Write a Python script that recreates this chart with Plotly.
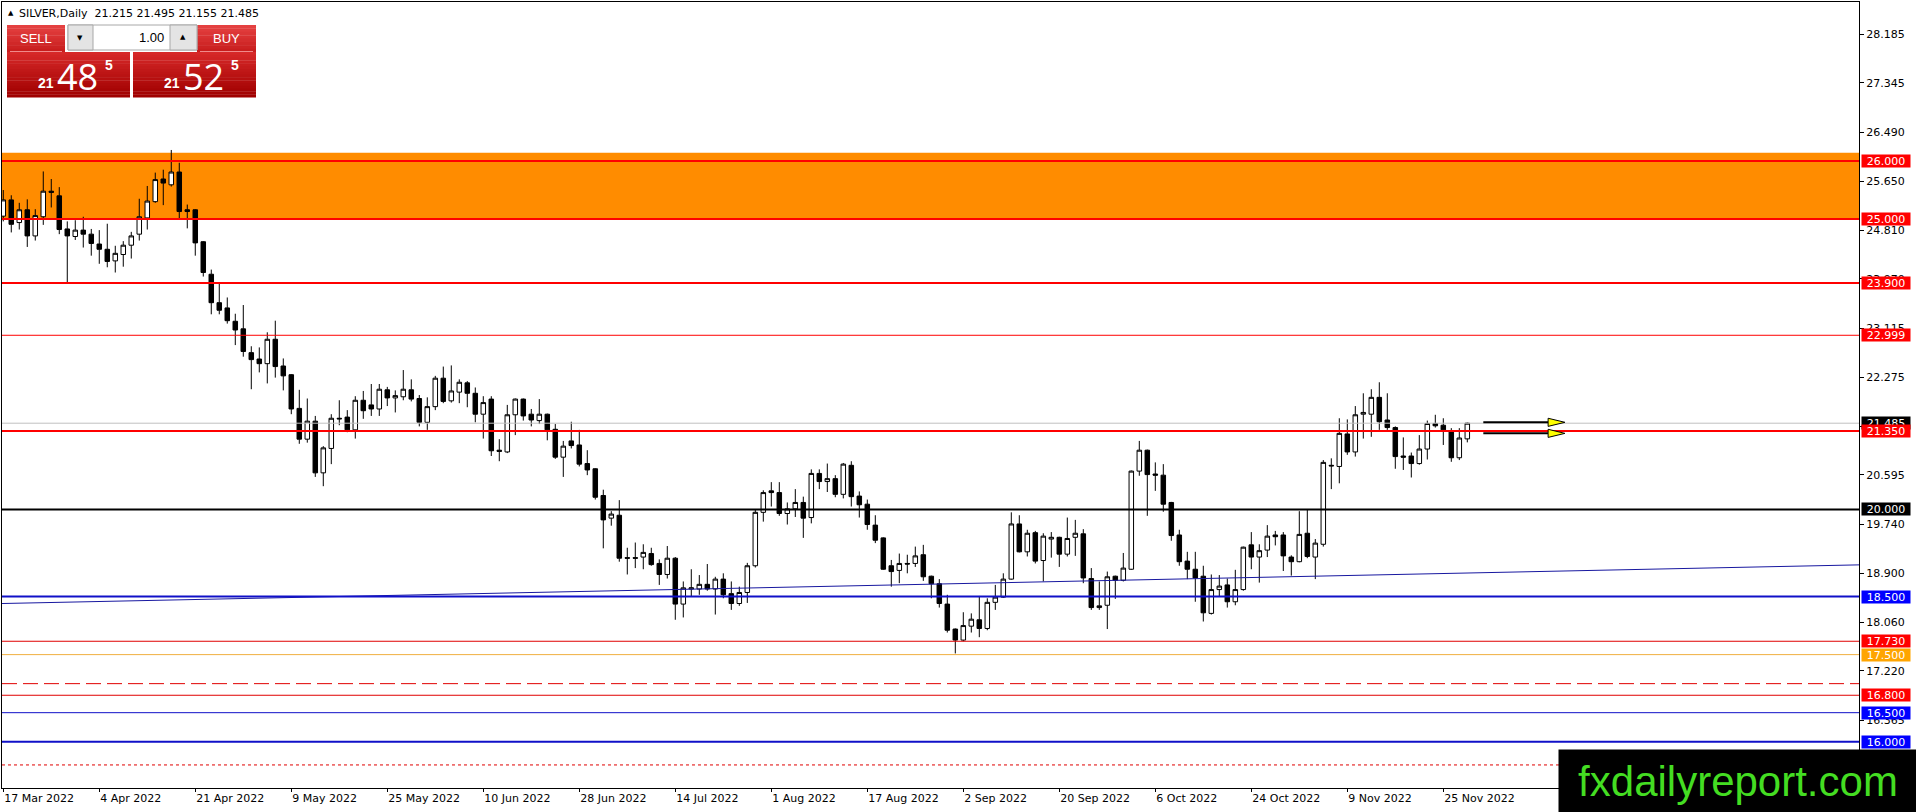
import plotly.graph_objects as go

# =================================================================
# Data: SILVER daily bars, 17 Mar 2022 .. 30 Nov 2022
# =================================================================
opens = [25.05, 25.33, 24.94, 25.16, 24.71, 25.04, 25.48, 25.40, 24.83, 24.70,
         24.81, 24.74, 24.57, 24.48, 24.28, 24.39, 24.55, 24.74, 25.02, 25.30,
         25.69, 25.59, 25.81, 25.16, 25.16, 24.61, 24.05, 23.56, 23.47, 23.24,
         23.11, 22.70, 22.59, 22.51, 22.93, 22.47, 22.32, 21.74, 21.21, 21.52,
         20.63, 21.05, 21.57, 21.59, 21.37, 21.88, 21.80, 21.73, 22.06, 21.92,
         21.94, 22.06, 21.91, 21.50, 21.77, 22.26, 21.87, 22.02, 22.18, 22.00,
         21.64, 21.90, 21.02, 20.99, 21.63, 21.90, 21.64, 21.53, 21.64, 21.38,
         20.90, 21.18, 21.11, 20.79, 20.70, 20.24, 19.85, 19.90, 19.17, 19.17,
         19.18, 19.24, 19.07, 18.88, 19.16, 18.37, 18.63, 18.63, 18.71, 18.63,
         18.80, 18.55, 18.38, 18.57, 19.03, 19.95, 20.32, 20.29, 19.93, 20.01,
         20.12, 19.86, 20.62, 20.48, 20.53, 20.26, 20.76, 20.23, 20.09, 19.73,
         19.51, 19.03, 18.95, 19.07, 19.07, 19.22, 18.85, 18.72, 18.37, 17.94,
         17.75, 17.99, 18.10, 17.95, 18.40, 18.49, 18.80, 19.75, 19.27, 19.60,
         19.12, 19.49, 19.52, 19.23, 19.52, 19.58, 18.81, 18.31, 18.35, 18.85,
         18.78, 18.97, 20.66, 21.02, 20.61, 20.59, 20.12, 19.56, 19.11, 18.97,
         18.85, 18.21, 18.62, 18.70, 18.41, 18.62, 19.39, 19.18, 19.30, 19.56,
         19.56, 19.18, 19.10, 19.59, 19.18, 19.40, 20.76, 20.74, 21.30, 20.99,
         21.64, 21.64, 21.93, 21.54, 21.41, 20.92, 20.92, 20.79, 21.04, 21.48,
         21.45, 21.35, 20.89, 21.215]
highs = [25.50, 25.41, 25.28, 25.34, 25.17, 25.82, 25.69, 25.55, 24.96, 24.98,
         25.04, 24.83, 24.81, 24.92, 24.54, 24.62, 24.78, 25.35, 25.57, 25.80,
         25.85, 26.19, 25.97, 25.25, 25.17, 24.62, 24.13, 23.89, 23.65, 23.37,
         23.52, 22.81, 22.79, 23.05, 23.25, 22.60, 22.33, 22.06, 21.91, 21.61,
         21.09, 21.64, 21.88, 21.71, 21.95, 22.04, 22.16, 22.16, 22.11, 22.05,
         22.40, 22.24, 21.97, 21.93, 22.30, 22.46, 22.48, 22.24, 22.21, 22.10,
         21.95, 21.95, 21.21, 21.80, 21.91, 21.91, 21.73, 21.90, 21.65, 21.47,
         21.18, 21.51, 21.37, 21.02, 20.71, 20.34, 19.97, 20.16, 19.34, 19.43,
         19.40, 19.34, 19.14, 19.37, 19.18, 18.76, 18.97, 18.87, 19.06, 18.84,
         18.90, 18.76, 18.67, 19.08, 19.99, 20.33, 20.47, 20.47, 20.12, 20.35,
         20.22, 20.69, 20.69, 20.79, 20.59, 20.80, 20.83, 20.31, 20.17, 19.90,
         19.52, 19.13, 19.24, 19.22, 19.36, 19.39, 18.86, 18.80, 18.53, 17.95,
         18.23, 18.21, 18.51, 18.47, 18.70, 18.90, 19.95, 19.90, 19.65, 19.63,
         19.59, 19.61, 19.53, 19.86, 19.82, 19.66, 18.99, 18.76, 18.93, 18.86,
         19.25, 20.67, 21.18, 21.03, 20.81, 20.78, 20.13, 19.65, 19.27, 19.27,
         19.03, 18.88, 18.87, 18.81, 18.96, 19.36, 19.61, 19.40, 19.73, 19.63,
         19.61, 19.21, 19.97, 20.00, 19.49, 20.85, 20.88, 21.57, 21.55, 21.78,
         22.00, 22.07, 22.19, 22.00, 21.43, 21.24, 20.98, 21.28, 21.53, 21.63,
         21.57, 21.40, 21.40, 21.495]
lows = [24.96, 24.77, 24.82, 24.52, 24.63, 24.90, 25.20, 24.74, 23.91, 24.64,
        24.51, 24.37, 24.23, 24.17, 24.08, 24.18, 24.32, 24.63, 24.82, 25.28,
        25.24, 25.56, 25.01, 24.84, 24.37, 24.01, 23.36, 23.36, 23.20, 22.83,
        22.63, 22.07, 22.36, 22.17, 22.27, 22.05, 21.64, 21.13, 21.15, 20.56,
        20.40, 20.78, 21.45, 21.33, 21.22, 21.56, 21.61, 21.61, 21.78, 21.67,
        21.88, 21.86, 21.43, 21.37, 21.71, 21.83, 21.84, 21.83, 21.76, 21.50,
        21.22, 20.92, 20.83, 20.97, 21.28, 21.53, 21.43, 21.47, 21.19, 20.87,
        20.56, 21.05, 20.74, 20.59, 20.17, 19.33, 19.72, 19.10, 18.88, 18.99,
        18.97, 19.03, 18.70, 18.81, 18.10, 18.14, 18.50, 18.53, 18.60, 18.19,
        18.47, 18.27, 18.34, 18.39, 19.00, 19.79, 20.05, 19.89, 19.74, 19.87,
        19.51, 19.76, 20.35, 20.30, 20.21, 20.19, 20.05, 19.86, 19.65, 19.42,
        18.96, 18.67, 18.73, 18.90, 19.01, 18.77, 18.47, 18.31, 17.88, 17.52,
        17.73, 17.88, 17.80, 17.92, 18.27, 18.48, 18.79, 19.26, 19.19, 19.07,
        18.76, 19.17, 19.01, 19.19, 19.20, 18.73, 18.27, 18.27, 17.94, 18.46,
        18.76, 18.96, 20.58, 19.89, 20.32, 19.96, 19.46, 19.03, 18.80, 18.41,
        18.07, 18.19, 18.50, 18.31, 18.35, 18.60, 18.97, 18.74, 19.18, 19.38,
        18.94, 18.86, 19.09, 19.16, 18.80, 19.36, 20.35, 20.45, 20.94, 20.91,
        21.22, 21.25, 21.37, 21.37, 20.70, 20.68, 20.55, 20.77, 20.86, 21.41,
        21.11, 20.82, 20.85, 21.155]
closes = [25.33, 24.91, 25.16, 24.71, 25.06, 25.48, 25.46, 24.82, 24.71, 24.81,
          24.74, 24.58, 24.48, 24.27, 24.41, 24.55, 24.71, 25.04, 25.31, 25.68,
          25.62, 25.81, 25.13, 25.13, 24.59, 24.08, 23.56, 23.43, 23.25, 23.09,
          22.72, 22.58, 22.51, 22.93, 22.46, 22.30, 21.73, 21.21, 21.52, 20.63,
          21.06, 21.57, 21.56, 21.37, 21.88, 21.70, 21.73, 22.07, 21.92, 21.96,
          22.07, 21.90, 21.50, 21.77, 22.26, 21.86, 22.04, 22.19, 22.00, 21.64,
          21.84, 21.01, 21.00, 21.63, 21.90, 21.61, 21.54, 21.64, 21.37, 20.90,
          21.09, 21.10, 20.78, 20.68, 20.21, 19.82, 19.92, 19.16, 19.16, 19.16,
          19.26, 19.05, 18.88, 19.16, 18.37, 18.65, 18.65, 18.71, 18.63, 18.80,
          18.53, 18.38, 18.57, 19.03, 19.95, 20.29, 20.29, 19.93, 20.01, 20.12,
          19.85, 20.62, 20.48, 20.53, 20.26, 20.78, 20.22, 20.08, 19.74, 19.47,
          18.97, 18.93, 19.07, 19.06, 19.20, 18.84, 18.72, 18.38, 17.92, 17.75,
          18.00, 18.11, 17.95, 18.40, 18.49, 18.80, 19.75, 19.27, 19.59, 19.11,
          19.54, 19.52, 19.23, 19.50, 19.59, 18.82, 18.31, 18.34, 18.84, 18.78,
          18.99, 20.66, 21.02, 20.60, 20.59, 20.09, 19.55, 19.10, 18.97, 18.82,
          18.22, 18.62, 18.68, 18.41, 18.62, 19.35, 19.18, 19.29, 19.54, 19.53,
          19.20, 19.10, 19.57, 19.19, 19.42, 20.81, 20.75, 21.31, 20.99, 21.63,
          21.67, 21.93, 21.51, 21.41, 20.91, 20.90, 20.79, 21.04, 21.48, 21.44,
          21.37, 20.89, 21.23, 21.485]

tick_bars = [0, 12, 24, 36, 48, 60, 72, 84, 96, 108, 120, 132, 144, 156, 168, 180]
tick_labels = ["17 Mar 2022", "4 Apr 2022", "21 Apr 2022", "9 May 2022",
               "25 May 2022", "10 Jun 2022", "28 Jun 2022", "14 Jul 2022",
               "1 Aug 2022", "17 Aug 2022", "2 Sep 2022", "20 Sep 2022",
               "6 Oct 2022", "24 Oct 2022", "9 Nov 2022", "25 Nov 2022"]

price_ticks = [28.185, 27.345, 26.490, 25.650, 24.810, 23.970, 23.115, 22.275,
               21.435, 20.595, 19.740, 18.900, 18.060, 17.220, 16.365]

# horizontal levels drawn on the chart
level_prices = [26.0, 25.0, 23.9, 22.999, 21.35, 20.0, 18.5, 17.73, 17.5, 16.8, 16.5, 16.0]
level_colors = ["#ff0000", "#ff0000", "#ff0000", "#ff0000", "#ff0000", "#000000",
                "#1010c8", "#e00000", "#f0b040", "#e00000", "#1010c8", "#1010c8"]
level_label_bg = ["#ff0000", "#ff0000", "#ff0000", "#ff0000", "#ff0000", "#000000",
                  "#0000ff", "#ff0000", "#ffa500", "#ff0000", "#0000ff", "#0000ff"]
level_widths = [2, 2, 2, 1, 2, 2, 2, 1, 1, 1, 1, 2]

zone_low, zone_high = 25.0, 26.14
dashed_level = 17.0
dotted_level = 15.6
trend_bars = [0, 183]
trend_prices = [18.38, 18.905]
arrow_prices = [21.50, 21.31]
arrow_bars = [185.0, 195.2]
bid, ask, lot = 21.485, 21.525, 1.00

# =================================================================
# Layout helpers (pixel -> paper)
# =================================================================
W, H = 1916, 812
PL, PR, PT, PB = 2, 1859, 2, 788
X_MIN, X_MAX = -0.16, 231.96
Y_MIN, Y_MAX = 15.203, 28.738


def fx(px):
    return (px - PL) / (PR - PL)


def fy(py):
    return (PB - py) / (PB - PT)


shapes = []
annos = []


def rect(x0, y0, x1, y1, fill, line=None, lw=0):
    shapes.append(dict(type="rect", xref="paper", yref="paper",
                       x0=fx(x0), x1=fx(x1), y0=fy(y0), y1=fy(y1),
                       fillcolor=fill, line=dict(color=line or fill, width=lw),
                       layer="above"))


def grad_rect(x0, y0, x1, y1, c_top, c_bot, n=14):
    h = (y1 - y0) / n
    for i in range(n):
        t = i / (n - 1)
        c = tuple(int(round(a + (b - a) * t)) for a, b in zip(c_top, c_bot))
        rect(x0, y0 + i * h, x1, y0 + (i + 1) * h + 0.4, "rgb(%d,%d,%d)" % c)


def text(x, y, s, size, color="black", family="DejaVu Sans", xanchor="left", **kw):
    annos.append(dict(xref="paper", yref="paper", x=fx(x), y=fy(y), text=s,
                      showarrow=False, xanchor=xanchor, yanchor="middle",
                      font=dict(size=size, color=color, family=family), **kw))


# =================================================================
# Figure
# =================================================================
fig = go.Figure()

fig.add_trace(go.Candlestick(
    x=list(range(len(opens))), open=opens, high=highs, low=lows, close=closes,
    increasing=dict(line=dict(color="black", width=1), fillcolor="white"),
    decreasing=dict(line=dict(color="black", width=1), fillcolor="black"),
    whiskerwidth=0, hoverinfo="skip", showlegend=False,
))

# orange zone (behind candles)
shapes.append(dict(type="rect", xref="paper", yref="y", x0=0, x1=1,
                   y0=zone_low, y1=zone_high, fillcolor="#ff8c00",
                   line=dict(width=0), layer="below"))

# trend line, extended to both edges
slope = (trend_prices[1] - trend_prices[0]) / (trend_bars[1] - trend_bars[0])
shapes.append(dict(type="line", xref="x", yref="y",
                   x0=X_MIN, y0=trend_prices[0] + slope * (X_MIN - trend_bars[0]),
                   x1=X_MAX, y1=trend_prices[0] + slope * (X_MAX - trend_bars[0]),
                   line=dict(color="#1818a0", width=1), layer="above"))

# bid line
shapes.append(dict(type="line", xref="paper", yref="y", x0=0, x1=1, y0=closes[-1], y1=closes[-1],
                   line=dict(color="#c0c0c0", width=1), layer="above"))

for p, c, w in zip(level_prices, level_colors, level_widths):
    shapes.append(dict(type="line", xref="paper", yref="y", x0=0, x1=1, y0=p, y1=p,
                       line=dict(color=c, width=w), layer="above"))
shapes.append(dict(type="line", xref="paper", yref="y", x0=0, x1=1,
                   y0=dashed_level, y1=dashed_level,
                   line=dict(color="#e00000", width=1, dash="15px,6px"), layer="above"))
shapes.append(dict(type="line", xref="paper", yref="y", x0=0, x1=1,
                   y0=dotted_level, y1=dotted_level,
                   line=dict(color="#e00000", width=1, dash="3px,3px"), layer="above"))

# arrows
head = 2.1
half_h = 0.07
for p in arrow_prices:
    shapes.append(dict(type="line", xref="x", yref="y", x0=arrow_bars[0], x1=arrow_bars[1] - head,
                       y0=p, y1=p, line=dict(color="black", width=2), layer="above"))
    tip = arrow_bars[1]
    shapes.append(dict(type="path", xref="x", yref="y",
                       path="M %f %f L %f %f L %f %f Z" % (tip - head, p + half_h, tip, p,
                                                           tip - head, p - half_h),
                       fillcolor="#ffff00", line=dict(color="black", width=1), layer="above"))

# price labels on the right axis
def axis_label(p, bg):
    annos.append(dict(xref="paper", yref="y", x=1, y=p, xanchor="left", xshift=2,
                      yanchor="middle", text="%.3f" % p, showarrow=False,
                      font=dict(size=11, color="white", family="DejaVu Sans"),
                      bgcolor=bg, width=48, height=12, borderpad=0, align="center"))


axis_label(closes[-1], "#000000")
for p, bg in zip(level_prices, level_label_bg):
    axis_label(p, bg)

# header
text(6, 13, "▲", 7)
text(17, 13, "SILVER,Daily  %.3f %.3f %.3f %.3f" % (opens[-1], highs[-1], lows[-1], closes[-1]), 11)

# one-click trading panel
grad_rect(7, 25, 65, 52, (228, 64, 64), (200, 30, 30), 8)
grad_rect(7, 52, 130, 97, (214, 40, 40), (160, 0, 0), 16)
grad_rect(197, 25, 256, 52, (228, 64, 64), (200, 30, 30), 8)
grad_rect(133, 52, 256, 97, (214, 40, 40), (160, 0, 0), 16)
rect(10, 51, 62, 52, "#f08a8a")
rect(200, 51, 253, 52, "#f08a8a")
rect(68, 25, 197, 50, "white", "#a8a8a8", 1)
rect(68, 25, 93, 50, "#e4e4e4", "#a8a8a8", 1)
rect(170, 25, 197, 50, "#e4e4e4", "#a8a8a8", 1)
text(36, 39, "SELL", 13, "white", "Liberation Sans", xanchor="center")
text(226, 39, "BUY", 13, "white", "Liberation Sans", xanchor="center")
text(80, 38, "▼", 7, xanchor="center")
text(183, 37, "▲", 7, xanchor="center")
text(166, 38, "%.2f" % lot, 13, "black", "Liberation Sans", xanchor="right")

for price, x_big in ((bid, 36), (ask, 162)):
    s = "%.3f" % price
    text(x_big, 83, "<b>%s</b>" % s[:2], 14, "white", "Liberation Sans")
    text(x_big + 19, 76, s[3:5], 36, "white", "Open Sans")
    text(x_big + 67, 65, "<b>%s</b>" % s[5], 14, "white", "Liberation Sans")

# watermark
annos.append(dict(xref="paper", yref="paper", x=fx(1558), y=fy(749), xanchor="left",
                  yanchor="top", text="fxdailyreport.com", showarrow=False,
                  font=dict(size=42, color="#44dd22", family="Liberation Sans"),
                  bgcolor="black", width=358, height=63, borderpad=0))

fig.update_layout(
    width=W, height=H,
    margin=dict(l=PL, r=W - PR, t=PT, b=H - PB, pad=0),
    paper_bgcolor="white", plot_bgcolor="white",
    showlegend=False,
    boxgap=0.25, boxgroupgap=0.25,
    shapes=shapes, annotations=annos,
    xaxis=dict(range=[X_MIN, X_MAX], rangeslider=dict(visible=False),
               showgrid=False, zeroline=False, showline=True, linecolor="black",
               linewidth=1, mirror=True, ticks="outside", ticklen=3, tickcolor="black",
               tickvals=tick_bars, ticktext=tick_labels, ticklabelposition="outside right",
               tickfont=dict(size=11, color="black", family="DejaVu Sans")),
    yaxis=dict(range=[Y_MIN, Y_MAX], side="right", showgrid=False, zeroline=False,
               showline=True, linecolor="black", linewidth=1, mirror=True,
               ticks="outside", ticklen=4, tickcolor="black",
               tickvals=price_ticks, ticktext=["%.3f" % v for v in price_ticks],
               tickfont=dict(size=11, color="black", family="DejaVu Sans")),
)

# the page body has a default 8px margin; drop it so the figure fills the window
fig.write_html("out.html", config={"displayModeBar": False},
               post_script="document.body.style.margin='0px';")
